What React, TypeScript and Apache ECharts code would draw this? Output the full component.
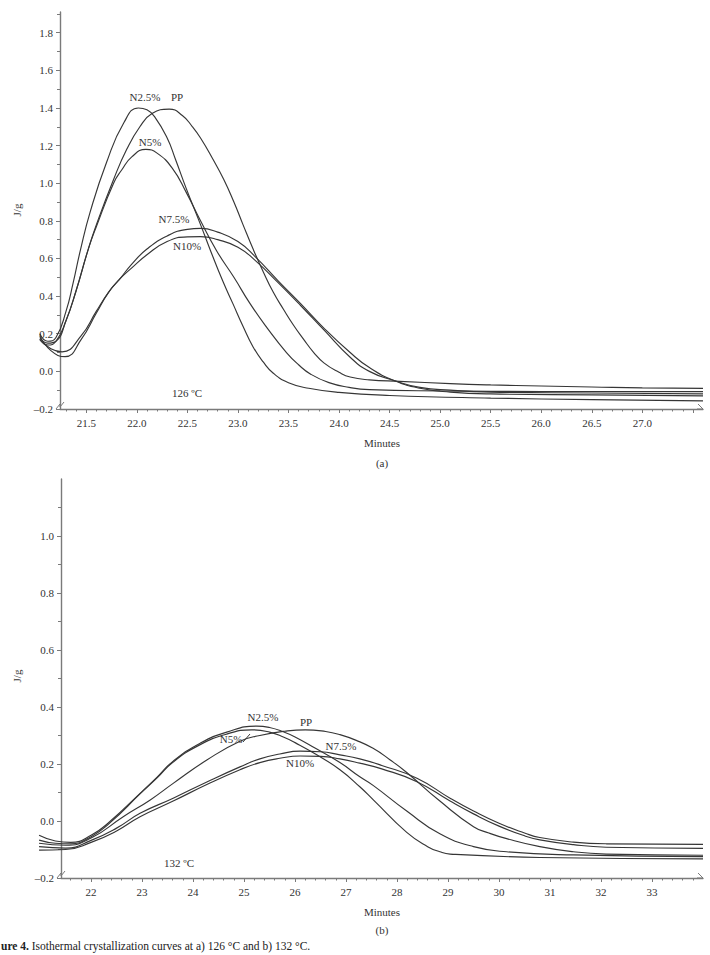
import React, { useEffect, useRef } from "react";
import * as echarts from "echarts";

// ---- Panel (a): isothermal crystallization at 126 ºC (minutes, J/g) ----
const PP_126: [number, number][] = [
  [21.04, 0.18], [21.12, 0.15], [21.2, 0.16], [21.3, 0.27], [21.4, 0.43], [21.52, 0.65], [21.6, 0.78],
  [21.77, 1.02], [21.9, 1.18], [22.03, 1.3], [22.15, 1.37], [22.32, 1.394], [22.45, 1.36], [22.55, 1.3],
  [22.63, 1.24], [22.75, 1.13], [22.86, 1.02], [22.96, 0.9], [23.05, 0.78], [23.15, 0.65], [23.25, 0.53],
  [23.35, 0.42], [23.45, 0.33], [23.55, 0.245], [23.65, 0.17], [23.75, 0.1], [23.85, 0.045], [24.0, -0.005],
  [24.11, -0.03], [24.3, -0.045], [24.6, -0.053], [25.1, -0.065], [25.5, -0.072], [26.0, -0.078],
  [26.5, -0.083], [27.0, -0.088], [27.6, -0.09],
];
const N25_126: [number, number][] = [
  [21.04, 0.2], [21.12, 0.16], [21.2, 0.18], [21.3, 0.32], [21.37, 0.47], [21.44, 0.64], [21.54, 0.85],
  [21.7, 1.11], [21.87, 1.32], [22.015, 1.4], [22.1, 1.39], [22.18, 1.35], [22.3, 1.24], [22.38, 1.13],
  [22.49, 0.97], [22.63, 0.78], [22.73, 0.64], [22.85, 0.48], [22.95, 0.36], [23.05, 0.24], [23.15, 0.13],
  [23.25, 0.05], [23.35, -0.01], [23.5, -0.06], [23.7, -0.09], [24.0, -0.112], [24.5, -0.128],
  [25.5, -0.142], [26.5, -0.15], [27.6, -0.157],
];
const N5_126: [number, number][] = [
  [21.04, 0.17], [21.12, 0.14], [21.2, 0.16], [21.3, 0.27], [21.4, 0.43], [21.52, 0.65], [21.6, 0.77],
  [21.77, 1.0], [21.85, 1.07], [21.95, 1.14], [22.09, 1.18], [22.2, 1.16], [22.35, 1.08], [22.49, 0.95],
  [22.63, 0.8], [22.79, 0.64], [22.96, 0.5], [23.12, 0.36], [23.29, 0.23], [23.48, 0.1], [23.6, 0.035],
  [23.72, -0.015], [23.9, -0.06], [24.1, -0.085], [24.3, -0.097], [25.0, -0.104], [26.0, -0.107],
  [27.6, -0.108],
];
const N75_126: [number, number][] = [
  [21.04, 0.19], [21.15, 0.11], [21.29, 0.078], [21.45, 0.17], [21.6, 0.31], [21.72, 0.42], [21.83, 0.49],
  [21.95, 0.57], [22.1, 0.65], [22.3, 0.72], [22.5, 0.755], [22.63, 0.76], [22.8, 0.74], [23.0, 0.69],
  [23.17, 0.61], [23.4, 0.48], [23.62, 0.36], [23.85, 0.23], [24.11, 0.1], [24.3, 0.02], [24.55, -0.05],
  [24.8, -0.09], [25.1, -0.11], [25.5, -0.12], [26.5, -0.125], [27.6, -0.13],
];
const N10_126: [number, number][] = [
  [21.04, 0.17], [21.15, 0.12], [21.26, 0.104], [21.45, 0.19], [21.6, 0.32], [21.72, 0.42], [21.83, 0.49],
  [21.95, 0.55], [22.1, 0.62], [22.3, 0.69], [22.5, 0.715], [22.63, 0.716], [22.8, 0.7], [23.0, 0.66],
  [23.17, 0.59], [23.4, 0.47], [23.62, 0.35], [23.85, 0.22], [24.11, 0.075], [24.3, 0.0], [24.55, -0.05],
  [24.8, -0.085], [25.1, -0.1], [25.5, -0.11], [26.5, -0.115], [27.6, -0.12],
];

// ---- Panel (b): isothermal crystallization at 132 ºC ----
const PP_132: [number, number][] = [
  [20.98, -0.078], [21.5, -0.085], [22.0, -0.06], [22.63, 0.015], [23.16, 0.074], [23.61, 0.132],
  [24.27, 0.214], [24.92, 0.28], [25.31, 0.3], [25.8, 0.315], [26.2, 0.32], [26.6, 0.314], [26.88, 0.303],
  [27.2, 0.283], [27.53, 0.255], [27.86, 0.215], [28.19, 0.17], [28.84, 0.07], [29.5, -0.02], [29.8, -0.042],
  [30.15, -0.062], [30.8, -0.09], [31.46, -0.108], [32.1, -0.116], [34.0, -0.12],
];
const N25_132: [number, number][] = [
  [20.98, -0.05], [21.3, -0.07], [21.6, -0.075], [22.0, -0.05], [22.38, 0.0], [22.96, 0.097], [23.3, 0.155],
  [23.61, 0.21], [24.14, 0.273], [24.66, 0.312], [25.25, 0.333], [25.5, 0.328], [25.77, 0.313],
  [26.0, 0.295], [26.4, 0.255], [26.88, 0.205], [27.27, 0.155], [27.53, 0.125], [28.19, 0.035],
  [28.84, -0.045], [29.5, -0.09], [30.15, -0.108], [31.46, -0.119], [34.0, -0.125],
];
const N5_132: [number, number][] = [
  [20.98, -0.067], [21.3, -0.078], [21.6, -0.08], [22.0, -0.055], [22.38, -0.005], [22.96, 0.095],
  [23.3, 0.152], [23.61, 0.207], [24.14, 0.268], [24.66, 0.305], [25.15, 0.32], [25.5, 0.312],
  [25.77, 0.295], [26.0, 0.275], [26.4, 0.235], [26.88, 0.18], [27.27, 0.12], [27.53, 0.075],
  [28.19, -0.04], [28.6, -0.09], [28.84, -0.108], [29.04, -0.116], [30.8, -0.128], [34.0, -0.133],
];
const N75_132: [number, number][] = [
  [20.98, -0.09], [21.5, -0.095], [22.0, -0.068], [22.5, -0.025], [22.96, 0.027], [23.61, 0.08],
  [24.27, 0.137], [24.92, 0.19], [25.31, 0.218], [25.7, 0.235], [26.1, 0.245], [26.5, 0.243],
  [26.88, 0.232], [27.27, 0.218], [27.7, 0.195], [28.39, 0.15], [29.04, 0.08], [29.5, 0.035],
  [30.0, -0.008], [30.5, -0.042], [30.8, -0.058], [31.46, -0.074], [32.1, -0.08], [34.0, -0.082],
];
const N10_132: [number, number][] = [
  [20.98, -0.102], [21.5, -0.1], [22.0, -0.075], [22.5, -0.035], [22.96, 0.015], [23.61, 0.07],
  [24.27, 0.128], [24.92, 0.18], [25.31, 0.205], [25.7, 0.22], [26.1, 0.228], [26.5, 0.227],
  [26.88, 0.218], [27.27, 0.203], [27.7, 0.183], [28.39, 0.138], [29.04, 0.07], [29.5, 0.025],
  [30.0, -0.018], [30.5, -0.052], [30.8, -0.066], [31.46, -0.083], [32.1, -0.092], [34.0, -0.096],
];

// ---- Axis ticks and labels ----
const X_LABELS_126 = [21.5, 22.0, 22.5, 23.0, 23.5, 24.0, 24.5, 25.0, 25.5, 26.0, 26.5, 27.0];
const X_MAJOR_126 = [...X_LABELS_126, 27.5];
const Y_LABELS_126 = [-0.2, 0.0, 0.2, 0.4, 0.6, 0.8, 1.0, 1.2, 1.4, 1.6, 1.8];
const X_LABELS_132 = [22, 23, 24, 25, 26, 27, 28, 29, 30, 31, 32, 33];
const Y_LABELS_132 = [-0.2, 0.0, 0.2, 0.4, 0.6, 0.8, 1.0];

const steps = (from: number, to: number, step: number, skip: number[]) => {
  const out: number[] = [];
  const n = Math.round((to - from) / step);
  for (let i = 0; i <= n; i++) {
    const v = Math.round((from + i * step) * 100) / 100;
    if (!skip.some((s) => Math.abs(s - v) < 1e-6)) out.push(v);
  }
  return out;
};
const X_MINOR_126 = steps(21.3, 27.5, 0.1, X_MAJOR_126);
const Y_MINOR_126 = steps(-0.1, 1.9, 0.2, []);
const X_MINOR_132 = steps(21.6, 33.8, 0.2, X_LABELS_132);
const Y_MINOR_132 = steps(-0.1, 1.1, 0.2, []);

// visible axis windows and the wider windows the traces are drawn in
const A_X = [21.24, 27.6];
const A_Y = [-0.2, 1.91];
const B_X = [21.41, 34];
const B_Y = [-0.2, 1.2];
const A_TRACE_MIN = 21.0;
const B_TRACE_MIN = 20.9;

const FONT = "Liberation Serif, Times New Roman, serif";
const INK = "#333";
const AXIS = "#7a7a7a";

const fmtY = (v: number) => (v < 0 ? "\u2013" + Math.abs(v).toFixed(1) : v.toFixed(1));

function mainX(grid: number, min: number, max: number, ticks: number[], labels: number[], fmt: (v: number) => string) {
  return {
    type: "value", gridIndex: grid, min, max, position: "bottom",
    axisLine: { show: true, onZero: false, lineStyle: { color: AXIS, width: 1.4 } },
    axisTick: { show: true, customValues: ticks, length: 4, lineStyle: { color: AXIS, width: 1 } },
    axisLabel: { customValues: labels, formatter: fmt, color: INK, fontFamily: FONT, fontSize: 11, margin: 8 },
    splitLine: { show: false },
  };
}
function minorX(grid: number, min: number, max: number, ticks: number[]) {
  return {
    type: "value", gridIndex: grid, min, max, position: "bottom",
    axisLine: { show: false, onZero: false },
    axisTick: { show: true, customValues: ticks, length: 2.5, lineStyle: { color: AXIS, width: 1 } },
    axisLabel: { show: false },
    splitLine: { show: false },
  };
}
function mainY(grid: number, min: number, max: number, labels: number[]) {
  return {
    type: "value", gridIndex: grid, min, max, position: "left",
    axisLine: { show: true, onZero: false, lineStyle: { color: AXIS, width: 1.4 } },
    axisTick: { show: true, customValues: labels, length: 4, lineStyle: { color: AXIS, width: 1 } },
    axisLabel: { customValues: labels, formatter: fmtY, color: INK, fontFamily: FONT, fontSize: 11, margin: 7 },
    splitLine: { show: false },
  };
}
function minorY(grid: number, min: number, max: number, ticks: number[]) {
  return {
    type: "value", gridIndex: grid, min, max, position: "left",
    axisLine: { show: false, onZero: false },
    axisTick: { show: true, customValues: ticks, length: 3, lineStyle: { color: AXIS, width: 1 } },
    axisLabel: { show: false },
    splitLine: { show: false },
  };
}
function hiddenAxis(grid: number, min: number, max: number) {
  return { type: "value", gridIndex: grid, min, max, show: false, splitLine: { show: false } };
}

function curve(name: string, data: [number, number][], xi: number, yi: number) {
  return {
    name, type: "line", data, xAxisIndex: xi, yAxisIndex: yi,
    smooth: 0.5, showSymbol: false, symbol: "none", clip: false, silent: true,
    lineStyle: { color: "#363636", width: 1.15 },
  };
}

function label(text: string, x: number, y: number, size = 11, rotation = 0) {
  return {
    type: "text", x, y, rotation, silent: true,
    style: {
      text, fill: INK, font: `${size}px ${FONT}`,
      align: "center", verticalAlign: "middle", textAlign: "center", textVerticalAlign: "middle",
    },
  };
}

function mark(points: number[][]) {
  return { type: "polyline", silent: true, shape: { points }, style: { stroke: AXIS, lineWidth: 1, fill: "none" } };
}

export default function App() {
  const ref = useRef<HTMLDivElement>(null);

  useEffect(() => {
    document.body.style.margin = "0";
    if (!ref.current) return;
    const chart = echarts.init(ref.current, null, { renderer: "svg" });

    // panel geometry: visible plot boxes
    const aLeft = 60, aTop = 12, aW = 643, aH = 397;
    const bLeft = 61, bTop = 479, bW = 642, bH = 399;
    // trace boxes share the same scale but start further left, so traces run past the y axis
    const aPx = aW / (A_X[1] - A_X[0]);
    const bPx = bW / (B_X[1] - B_X[0]);
    const aExtra = (A_X[0] - A_TRACE_MIN) * aPx;
    const bExtra = (B_X[0] - B_TRACE_MIN) * bPx;

    chart.setOption({
      animation: false,
      backgroundColor: "#ffffff",
      textStyle: { fontFamily: FONT },
      grid: [
        { left: aLeft, top: aTop, width: aW, height: aH },
        { left: bLeft, top: bTop, width: bW, height: bH },
        { left: aLeft - aExtra, top: aTop, width: aW + aExtra, height: aH },
        { left: bLeft - bExtra, top: bTop, width: bW + bExtra, height: bH },
      ],
      xAxis: [
        mainX(0, A_X[0], A_X[1], X_MAJOR_126, X_LABELS_126, (v: number) => v.toFixed(1)),
        minorX(0, A_X[0], A_X[1], X_MINOR_126),
        mainX(1, B_X[0], B_X[1], X_LABELS_132, X_LABELS_132, (v: number) => String(Math.round(v))),
        minorX(1, B_X[0], B_X[1], X_MINOR_132),
        hiddenAxis(2, A_TRACE_MIN, A_X[1]),
        hiddenAxis(3, B_TRACE_MIN, B_X[1]),
      ],
      yAxis: [
        mainY(0, A_Y[0], A_Y[1], Y_LABELS_126),
        minorY(0, A_Y[0], A_Y[1], Y_MINOR_126),
        mainY(1, B_Y[0], B_Y[1], Y_LABELS_132),
        minorY(1, B_Y[0], B_Y[1], Y_MINOR_132),
        hiddenAxis(2, A_Y[0], A_Y[1]),
        hiddenAxis(3, B_Y[0], B_Y[1]),
      ],
      series: [
        curve("PP", PP_126, 4, 4),
        curve("N2.5%", N25_126, 4, 4),
        curve("N5%", N5_126, 4, 4),
        curve("N7.5%", N75_126, 4, 4),
        curve("N10%", N10_126, 4, 4),
        curve("PP", PP_132, 5, 5),
        curve("N2.5%", N25_132, 5, 5),
        curve("N5%", N5_132, 5, 5),
        curve("N7.5%", N75_132, 5, 5),
        curve("N10%", N10_132, 5, 5),
      ],
      graphic: [
        // panel (a)
        label("N2.5%", 145, 97),
        label("PP", 177, 97),
        label("N5%", 150, 142),
        label("N7.5%", 174, 219),
        label("N10%", 187, 246),
        label("126 ºC", 187, 393),
        label("J/g", 17, 210, 11, Math.PI / 2),
        label("Minutes", 382, 443),
        label("(a)", 382, 463),
        mark([[56, 409], [60, 404], [60, 407], [64, 402]]),
        mark([[698, 404], [703, 409], [697, 409]]),
        // panel (b)
        label("N2.5%", 263, 717),
        label("PP", 306, 722),
        label("N5%", 231, 739),
        label("N7.5%", 341, 746),
        label("N10%", 300, 763),
        label("132 ºC", 179, 863),
        label("J/g", 17, 676, 11, Math.PI / 2),
        label("Minutes", 382, 912),
        label("(b)", 382, 930),
        mark([[57, 878], [61, 873], [61, 876], [65, 871]]),
        mark([[698, 873], [703, 878], [697, 878]]),
        {
          type: "polyline", silent: true,
          shape: { points: [[243, 742], [250, 734]] },
          style: { stroke: "#3a3a3a", lineWidth: 1, fill: "none" },
        },
        {
          type: "text", x: 1, y: 946, silent: true,
          style: {
            text: "{b|ure 4.} Isothermal crystallization curves at a) 126 °C and b) 132 °C.",
            fill: "#222", font: `11.5px ${FONT}`,
            align: "left", verticalAlign: "middle", textAlign: "left", textVerticalAlign: "middle",
            rich: { b: { fontWeight: "bold", fontSize: 11.5, fontFamily: FONT, fill: "#222" } },
          },
        },
      ],
    });
    return () => chart.dispose();
  }, []);

  return (
    <div
      ref={ref}
      style={{ position: "absolute", left: 0, top: 0, width: 710, height: 955, background: "#fff" }}
    />
  );
}
